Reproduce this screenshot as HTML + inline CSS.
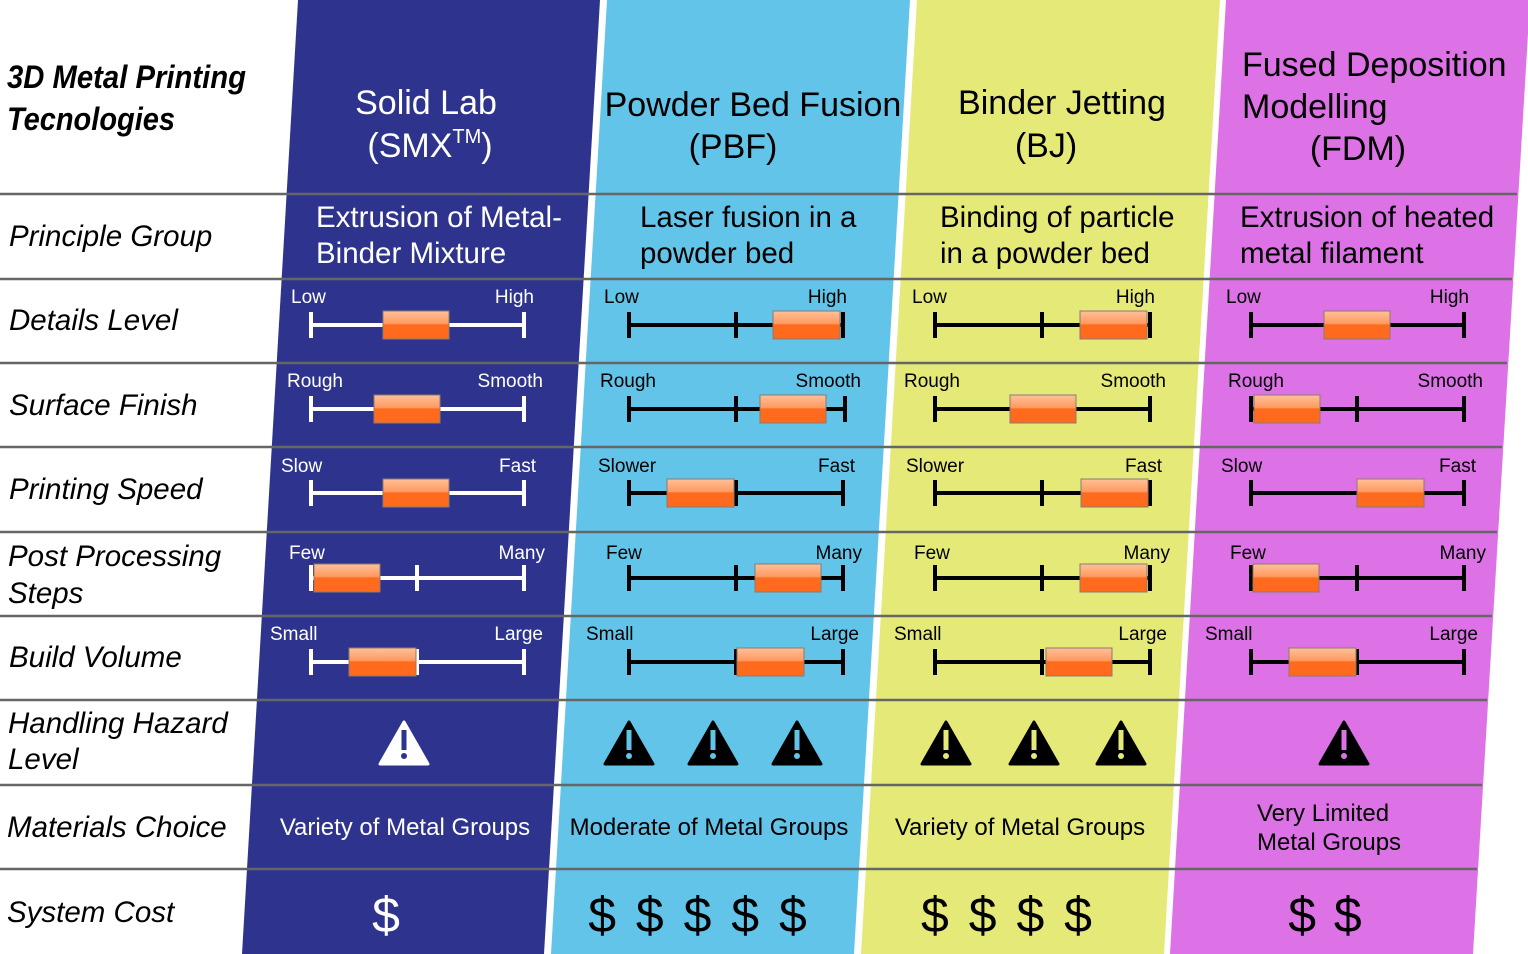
<!DOCTYPE html>
<html><head><meta charset="utf-8"><style>html,body{margin:0;padding:0;background:#fff}svg{display:block}text{font-family:"Liberation Sans",Arial,sans-serif}</style></head><body>
<svg width="1528" height="954" viewBox="0 0 1528 954" xmlns="http://www.w3.org/2000/svg">
<defs>
<linearGradient id="og" x1="0" y1="0" x2="0" y2="1">
<stop offset="0" stop-color="#FFC09A"/><stop offset="0.45" stop-color="#FF9A60"/><stop offset="0.5" stop-color="#FF6A1C"/><stop offset="1" stop-color="#FF6A1C"/>
</linearGradient>
</defs>
<rect width="1528" height="954" fill="#fff"/>
<polygon points="298,0 600,0 544,954 242,954" fill="#2E348E"/>
<polygon points="607,0 910,0 854,954 551,954" fill="#62C4E8"/>
<polygon points="917,0 1220,0 1164,954 861,954" fill="#E5E978"/>
<polygon points="1226,0 1530,0 1473,954 1170,954" fill="#DD72E6"/>
<g stroke="#666" stroke-width="2.5">
<line x1="0" y1="194" x2="1517" y2="194"/><line x1="0" y1="279" x2="1512" y2="279"/><line x1="0" y1="363" x2="1507" y2="363"/><line x1="0" y1="447" x2="1502" y2="447"/><line x1="0" y1="532" x2="1497" y2="532"/><line x1="0" y1="616" x2="1492" y2="616"/><line x1="0" y1="700" x2="1487" y2="700"/><line x1="0" y1="785" x2="1482" y2="785"/><line x1="0" y1="869" x2="1477" y2="869"/>
</g>
<!-- left labels -->
<g font-style="italic" fill="#000">
<text x="7" y="88" font-size="32" font-weight="bold" textLength="239" lengthAdjust="spacingAndGlyphs">3D Metal Printing</text>
<text x="7" y="130" font-size="32" font-weight="bold" textLength="168" lengthAdjust="spacingAndGlyphs">Tecnologies</text>
<g font-size="29.5">
<text x="9" y="246">Principle Group</text>
<text x="9" y="330">Details Level</text>
<text x="9" y="415">Surface Finish</text>
<text x="9" y="499">Printing Speed</text>
<text x="8" y="566">Post Processing</text>
<text x="8" y="603">Steps</text>
<text x="9" y="667">Build Volume</text>
<text x="8" y="733">Handling Hazard</text>
<text x="8" y="769">Level</text>
<text x="7" y="837">Materials Choice</text>
<text x="7" y="922">System Cost</text>
</g></g>
<!-- headers -->
<g font-size="34" text-anchor="middle">
<text x="426" y="114" fill="#fff">Solid Lab</text>
<text x="430" y="157" fill="#fff">(SMX<tspan font-size="20" dy="-14">TM</tspan><tspan dy="14">)</tspan></text>
<text x="753" y="116">Powder Bed Fusion</text>
<text x="733" y="158">(PBF)</text>
<text x="1062" y="114">Binder Jetting</text>
<text x="1046" y="157">(BJ)</text>
<text x="1242" y="76" text-anchor="start">Fused Deposition</text>
<text x="1242" y="118" text-anchor="start">Modelling</text>
<text x="1358" y="160">(FDM)</text>
</g>
<g font-size="29.5">
<text x="316" y="227" fill="#fff">Extrusion of Metal-</text>
<text x="316" y="263" fill="#fff">Binder Mixture</text>
<text x="640" y="227">Laser fusion in a</text>
<text x="640" y="263">powder bed</text>
<text x="940" y="227">Binding of particle</text>
<text x="940" y="263">in a powder bed</text>
<text x="1240" y="227">Extrusion of heated</text>
<text x="1240" y="263">metal filament</text>
</g>
<!-- slider labels -->
<g font-size="19">
<g fill="#fff"><text x="291" y="303">Low</text><text x="534" y="303" text-anchor="end">High</text>
<text x="287" y="387">Rough</text><text x="543" y="387" text-anchor="end">Smooth</text>
<text x="281" y="472">Slow</text><text x="536" y="472" text-anchor="end">Fast</text>
<text x="289" y="559">Few</text><text x="545" y="559" text-anchor="end">Many</text>
<text x="270" y="640">Small</text><text x="543" y="640" text-anchor="end">Large</text></g>
<text x="604" y="303">Low</text><text x="847" y="303" text-anchor="end">High</text>
<text x="600" y="387">Rough</text><text x="861" y="387" text-anchor="end">Smooth</text>
<text x="598" y="472">Slower</text><text x="855" y="472" text-anchor="end">Fast</text>
<text x="606" y="559">Few</text><text x="862" y="559" text-anchor="end">Many</text>
<text x="586" y="640">Small</text><text x="859" y="640" text-anchor="end">Large</text>
<text x="912" y="303">Low</text><text x="1155" y="303" text-anchor="end">High</text>
<text x="904" y="387">Rough</text><text x="1166" y="387" text-anchor="end">Smooth</text>
<text x="906" y="472">Slower</text><text x="1162" y="472" text-anchor="end">Fast</text>
<text x="914" y="559">Few</text><text x="1170" y="559" text-anchor="end">Many</text>
<text x="894" y="640">Small</text><text x="1167" y="640" text-anchor="end">Large</text>
<text x="1226" y="303">Low</text><text x="1469" y="303" text-anchor="end">High</text>
<text x="1228" y="387">Rough</text><text x="1483" y="387" text-anchor="end">Smooth</text>
<text x="1221" y="472">Slow</text><text x="1476" y="472" text-anchor="end">Fast</text>
<text x="1230" y="559">Few</text><text x="1486" y="559" text-anchor="end">Many</text>
<text x="1205" y="640">Small</text><text x="1478" y="640" text-anchor="end">Large</text>
</g>
<!-- slider lines -->
<g stroke-width="4">
<g stroke="#fff">
<path d="M311 325H524M311 312V338M524 312V338"/>
<path d="M311 409H524M311 396V422M524 396V422"/>
<path d="M311 493H524M311 480V506M524 480V506"/>
<path d="M311 578H524M311 565V591M524 565V591M417 565V591"/>
<path d="M311 662H524M311 649V675M524 649V675M417 649V675"/>
</g>
<g stroke="#000">
<path d="M629 325H843M629 312V338M843 312V338M736 312V338"/>
<path d="M629 409H845M629 396V422M845 396V422M736 396V422"/>
<path d="M629 493H843M629 480V506M843 480V506M736 480V506"/>
<path d="M629 578H843M629 565V591M843 565V591M736 565V591"/>
<path d="M629 662H843M629 649V675M843 649V675M736 649V675"/>
<path d="M935 325H1150M935 312V338M1150 312V338M1042 312V338"/>
<path d="M935 409H1150M935 396V422M1150 396V422"/>
<path d="M935 493H1150M935 480V506M1150 480V506M1042 480V506"/>
<path d="M935 578H1150M935 565V591M1150 565V591M1042 565V591"/>
<path d="M935 662H1150M935 649V675M1150 649V675M1042 649V675"/>
<path d="M1251 325H1464M1251 312V338M1464 312V338"/>
<path d="M1251 409H1464M1251 396V422M1464 396V422M1357 396V422"/>
<path d="M1251 493H1464M1251 480V506M1464 480V506"/>
<path d="M1251 578H1464M1251 565V591M1464 565V591M1357 565V591"/>
<path d="M1251 662H1464M1251 649V675M1464 649V675M1357 649V675"/>
</g></g>
<!-- orange boxes -->
<g fill="url(#og)" stroke="#8a7a70" stroke-width="1">
<rect x="383" y="311" width="66" height="28"/><rect x="773" y="311" width="67" height="28"/><rect x="1080" y="311" width="67" height="28"/><rect x="1324" y="311" width="66" height="28"/>
<rect x="374" y="395" width="66" height="28"/><rect x="760" y="395" width="66" height="28"/><rect x="1010" y="395" width="66" height="28"/><rect x="1254" y="395" width="66" height="28"/>
<rect x="383" y="479" width="66" height="28"/><rect x="667" y="479" width="67" height="28"/><rect x="1081" y="479" width="67" height="28"/><rect x="1357" y="479" width="67" height="28"/>
<rect x="314" y="564" width="66" height="28"/><rect x="755" y="564" width="66" height="28"/><rect x="1080" y="564" width="67" height="28"/><rect x="1253" y="564" width="66" height="28"/>
<rect x="349" y="648" width="67" height="28"/><rect x="737" y="648" width="67" height="28"/><rect x="1046" y="648" width="66" height="28"/><rect x="1289" y="648" width="67" height="28"/>
</g>
<!-- hazards -->
<g>
<path d="M404 722L428 764H380Z" fill="#fff" stroke="#fff" stroke-width="3" stroke-linejoin="round"/>
<rect x="401.5" y="730" width="5" height="20" fill="#2E348E"/><circle cx="404" cy="756" r="3" fill="#2E348E"/>
<g fill="#000" stroke="#000" stroke-width="3" stroke-linejoin="round">
<path d="M629 722L653 764H605Z"/><path d="M713 722L737 764H689Z"/><path d="M797 722L821 764H773Z"/>
<path d="M946 722L970 764H922Z"/><path d="M1034 722L1058 764H1010Z"/><path d="M1121 722L1145 764H1097Z"/>
<path d="M1344 722L1368 764H1320Z"/></g>
<g fill="#62C4E8"><rect x="626.5" y="730" width="5" height="20"/><circle cx="629" cy="756" r="3"/><rect x="710.5" y="730" width="5" height="20"/><circle cx="713" cy="756" r="3"/><rect x="794.5" y="730" width="5" height="20"/><circle cx="797" cy="756" r="3"/></g>
<g fill="#E5E978"><rect x="943.5" y="730" width="5" height="20"/><circle cx="946" cy="756" r="3"/><rect x="1031.5" y="730" width="5" height="20"/><circle cx="1034" cy="756" r="3"/><rect x="1118.5" y="730" width="5" height="20"/><circle cx="1121" cy="756" r="3"/></g>
<g fill="#DD72E6"><rect x="1341.5" y="730" width="5" height="20"/><circle cx="1344" cy="756" r="3"/></g>
</g>
<!-- materials -->
<g font-size="24">
<text x="405" y="835" text-anchor="middle" fill="#fff">Variety of Metal Groups</text>
<text x="709" y="835" text-anchor="middle">Moderate of Metal Groups</text>
<text x="1020" y="835" text-anchor="middle">Variety of Metal Groups</text>
<text x="1257" y="821">Very Limited</text>
<text x="1257" y="850">Metal Groups</text>
</g>
<!-- cost -->
<g font-size="50">
<text x="386" y="932" text-anchor="middle" fill="#fff">$</text>
<text x="699" y="932" text-anchor="middle" letter-spacing="3">$ $ $ $ $</text>
<text x="1008" y="932" text-anchor="middle" letter-spacing="3">$ $ $ $</text>
<text x="1326" y="932" text-anchor="middle" letter-spacing="2">$ $</text>
</g>
</svg>
</body></html>
